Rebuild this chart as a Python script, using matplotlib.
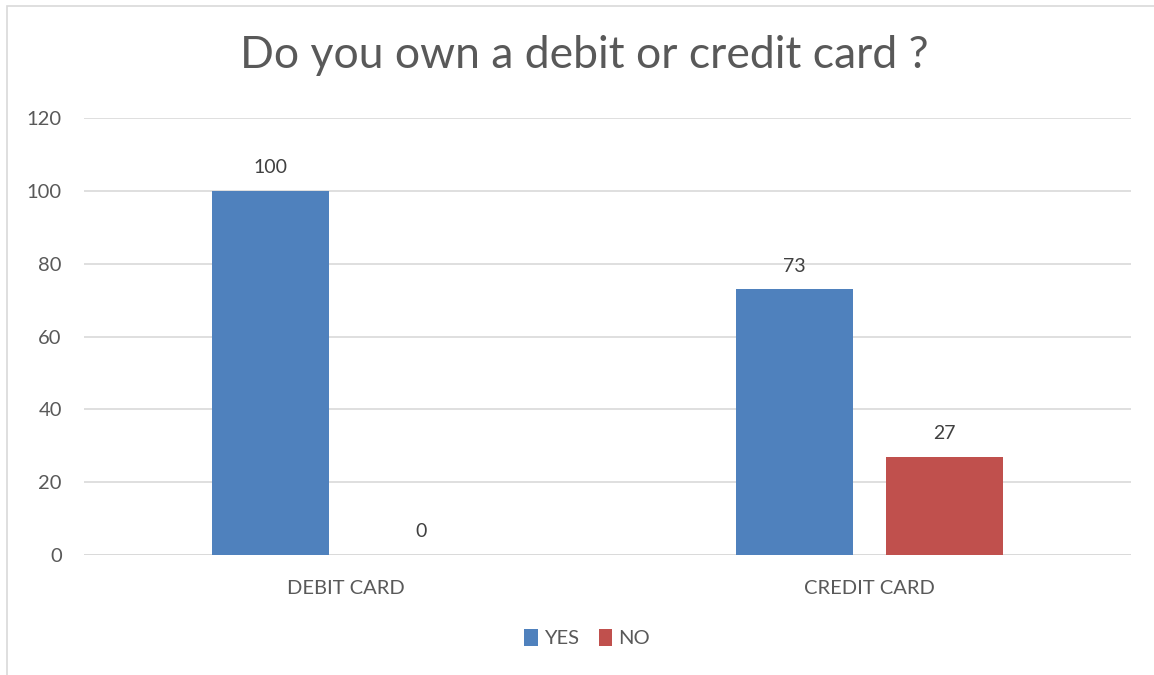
import matplotlib.pyplot as plt
import numpy as np
from matplotlib.patches import Rectangle

categories = ["DEBIT CARD", "CREDIT CARD"]
yes_values = [100, 73]
no_values = [0, 27]
series_names = ["YES", "NO"]
y_ticks = [0, 20, 40, 60, 80, 100, 120]

plt.rcParams['font.family'] = ['Lato', 'DejaVu Sans']
text_color = '#595959'
blue = '#4F81BD'
red = '#C0504D'

fig = plt.figure(figsize=(11.54, 6.75), dpi=100)
W, H = 1154, 675
ax = fig.add_axes([84 / W, 1 - 555 / H, (1131 - 84) / W, (555 - 118) / H])

x = np.arange(len(categories))
bw = 0.2235
off = 0.1433
b1 = ax.bar(x - off, yes_values, bw, color=blue, label=series_names[0], zorder=3)
b2 = ax.bar(x + off, no_values, bw, color=red, label=series_names[1], zorder=3)

for bars, vals in ((b1, yes_values), (b2, no_values)):
    for rect, v in zip(bars, vals):
        ax.text(rect.get_x() + rect.get_width() / 2, v + 4.0, f"{v}",
                ha='center', va='bottom', fontsize=14, color='#404040')

ax.set_xlim(-0.5, 1.5)
ax.set_ylim(0, 120)
ax.set_yticks(y_ticks)
ax.set_xticks(x)
ax.set_xticklabels(categories)
ax.tick_params(axis='both', length=0, labelsize=14.5, colors=text_color)
ax.tick_params(axis='y', pad=16)
ax.tick_params(axis='x', pad=18)
ax.grid(axis='y', color='#d9d9d9', linewidth=1.2, zorder=0)
for s in ax.spines.values():
    s.set_visible(False)
ax.axhline(0, color='#d9d9d9', linewidth=1.2, zorder=2)

fig.text(584 / W, 1 - 55 / H, "Do you own a debit or credit card ?",
         ha='center', va='center', fontsize=32, color=text_color)

leg = fig.legend(handles=[b1, b2], labels=series_names, loc='center',
                 bbox_to_anchor=(587 / W, 1 - 638 / H), ncol=2, frameon=False,
                 fontsize=14.5, handlelength=0.65, handleheight=0.9,
                 handletextpad=0.3, columnspacing=1.0)
for t in leg.get_texts():
    t.set_color(text_color)

# outer chart border
fig.patches.append(Rectangle((7 / W, -0.01), 1.2, 1 - 6 / H + 0.01,
                             transform=fig.transFigure, fill=False,
                             edgecolor='#d9d9d9', linewidth=1.2))

fig.savefig('out.png', dpi=100)
